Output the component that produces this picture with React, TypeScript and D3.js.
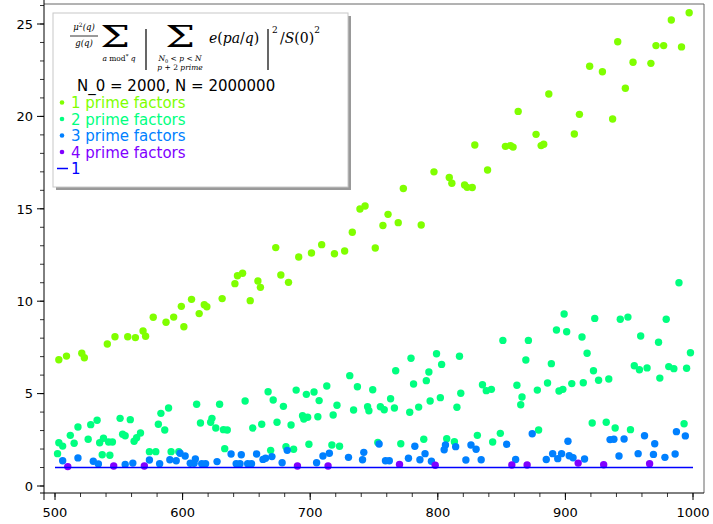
import React from 'react';
import * as d3 from 'd3';

// [q, value]
const onePrime: [number, number][] = [
  [503, 6.83], [509, 7.03], [521, 7.18], [523, 6.94], [541, 7.68], [547, 8.08], [557, 8.08], [563, 8.03], [569, 8.39], [571, 8.1],
  [577, 9.13], [587, 8.86], [593, 9.14], [599, 9.72], [601, 8.62], [607, 10.1], [613, 9.33], [617, 9.81], [619, 9.7], [631, 10.14],
  [641, 10.95], [643, 11.38], [647, 11.51], [653, 10.03], [659, 11.09], [661, 10.75], [673, 12.9], [677, 11.42], [683, 11.02], [691, 12.39],
  [701, 12.61], [709, 13.06], [719, 12.57], [727, 12.72], [733, 13.73], [739, 14.99], [743, 15.15], [751, 12.88], [757, 14.1], [761, 14.7],
  [769, 14.25], [773, 16.1], [787, 14.12], [797, 17.0], [809, 16.7], [811, 16.38], [821, 16.29], [823, 16.16], [827, 16.15], [829, 18.45],
  [839, 17.1], [853, 18.38], [857, 18.42], [859, 18.34], [863, 20.27], [877, 19.03], [881, 18.42], [883, 18.49], [887, 21.21], [907, 19.05],
  [911, 20.11], [919, 22.71], [929, 22.42], [937, 19.86], [941, 24.04], [947, 21.52], [953, 22.93], [967, 22.87], [971, 23.83], [977, 23.83],
  [983, 25.22], [991, 23.76], [997, 25.61],
];

const twoPrime: [number, number][] = [
  [502, 1.75], [503, 2.34], [506, 2.16], [512, 2.74], [515, 2.31], [518, 3.19], [526, 2.53], [528, 3.32], [533, 3.56], [535, 2.34],
  [538, 2.58], [537, 1.69], [543, 1.66], [542, 2.38], [545, 2.38], [551, 3.66], [553, 2.8], [555, 2.72], [559, 3.59], [562, 2.42],
  [564, 2.61], [567, 2.87], [574, 1.86], [579, 1.86], [583, 3.93], [589, 4.22], [581, 3.34], [586, 3.03], [591, 1.86], [597, 1.86],
  [611, 4.42], [614, 3.41], [622, 3.45], [623, 3.66], [626, 3.14], [629, 4.42], [632, 3.05], [635, 3.03], [633, 2.02], [649, 4.6],
  [655, 3.14], [662, 3.34],
  [667, 5.1], [671, 4.65], [679, 4.31], [674, 3.45], [685, 3.3], [689, 5.19], [697, 4.96], [703, 5.09], [707, 4.62], [713, 5.41],
  [694, 3.8], [695, 3.62], [698, 3.72], [706, 3.75], [718, 3.84], [721, 4.37], [731, 5.97], [737, 5.37], [734, 4.11], [745, 4.29],
  [746, 4.07], [749, 5.21], [755, 4.29], [758, 4.13], [763, 4.72], [766, 4.22], [767, 6.24], [779, 6.91], [781, 5.52], [778, 3.99],
  [785, 4.27], [791, 5.7], [793, 6.17], [794, 4.6], [799, 7.16], [803, 6.58], [802, 4.78], [815, 4.26], [817, 7.02], [818, 5.02],
  [835, 5.48], [838, 5.16],
  [669, 1.93], [681, 2.13], [687, 1.99], [699, 2.26], [717, 2.22], [723, 2.15], [753, 2.36], [771, 2.29], [789, 2.53], [807, 2.56],
  [813, 2.4], [831, 2.74],
  [899, 9.31], [923, 9.07], [943, 9.02], [949, 9.14], [979, 9.02], [893, 8.44], [901, 8.35], [851, 7.88], [871, 7.88], [913, 8.06],
  [959, 8.12], [973, 7.78], [869, 6.82], [917, 7.18], [889, 6.62], [998, 7.21], [842, 5.23], [862, 5.45], [866, 4.82], [865, 4.4],
  [878, 5.19], [886, 5.57], [895, 5.14], [898, 5.23], [905, 5.54], [914, 5.59], [922, 6.24], [926, 5.72], [934, 5.79], [954, 6.51],
  [958, 6.29], [964, 6.39], [974, 5.84], [981, 6.46], [985, 6.35], [995, 6.37], [843, 2.38], [849, 2.85], [879, 3.03], [921, 3.41],
  [932, 3.45], [939, 3.14], [951, 3.05], [993, 3.37], [989, 11.0],
];

const threePrime: [number, number][] = [
  [506, 1.37], [518, 1.52], [530, 1.34], [534, 1.19], [555, 1.17], [561, 1.24], [574, 1.41], [582, 1.21], [590, 1.42], [595, 1.37],
  [598, 1.77], [602, 1.62], [606, 1.23], [609, 1.23], [610, 1.46], [615, 1.21], [618, 1.21], [627, 1.32], [638, 1.73], [642, 1.21],
  [645, 1.21], [646, 1.69], [651, 1.21], [654, 1.21], [658, 1.73], [663, 1.44], [665, 1.5], [670, 1.59], [678, 1.26], [682, 1.93],
  [705, 1.26], [710, 1.62], [715, 1.77], [730, 1.55], [741, 1.42], [742, 1.82], [754, 2.27], [759, 1.37], [762, 1.37], [777, 1.5],
  [782, 2.15], [786, 1.42], [790, 1.75], [795, 1.34], [805, 1.96], [806, 2.22], [814, 2.13], [822, 1.41], [826, 2.22], [830, 1.99],
  [834, 1.42], [854, 2.26], [861, 1.43], [874, 2.83], [885, 1.43], [890, 1.75], [894, 1.48], [897, 1.75], [902, 2.42], [903, 1.64],
  [906, 1.53], [915, 1.46], [935, 2.51], [938, 2.53], [942, 1.62], [946, 2.54], [957, 1.75], [962, 2.72], [969, 1.71], [970, 2.29],
  [978, 1.55], [986, 1.73], [987, 2.94], [994, 2.71],
];

const fourPrime: [number, number][] = [
  [510, 1.05], [546, 1.08], [570, 1.08], [690, 1.08], [714, 1.08], [770, 1.17], [798, 1.12], [858, 1.14], [870, 1.14], [910, 1.24],
  [930, 1.15], [966, 1.21],
];

const constLine: [number, number][] = [[500, 1], [1000, 1]];

const seriesNames = ['1 prime factors', '2 prime factors', '3 prime factors', '4 prime factors'];
const seriesColors = ['#80ff00', '#00ff80', '#0080ff', '#8000ff'];
const xMajor = [500, 600, 700, 800, 900, 1000];
const yMajor = [0, 5, 10, 15, 20, 25];

const W = 713;
const H = 524;

const x = d3.scaleLinear().domain([500, 1000]).range([55, 693]);
const y = d3.scaleLinear().domain([0, 25]).range([486, 24]);

const left = 44, right = 704, top = 4, bottom = 493;
const sans = 'DejaVu Sans, sans-serif';
const serif = 'DejaVu Serif, serif';

const Legend: React.FC = () => {
  const lx = 53, ly = 13, lw = 295, lh = 174;
  const rows = [...seriesNames, '1'];
  return (
    <g>
      <rect x={lx + 3} y={ly + 3} width={lw} height={lh} fill="#999" />
      <rect x={lx} y={ly} width={lw} height={lh} fill="#fff" stroke="#c8c8c8" strokeWidth={1} />
      {/* formula */}
      <g fontFamily={serif} fill="#000">
        <text x={84} y={30} fontSize={8.5} textAnchor="middle" fontStyle="italic">
          μ<tspan fontSize={6} dy={-3} fontStyle="normal">2</tspan><tspan dy={3}>(q)</tspan>
        </text>
        <line x1={70} x2={98} y1={36} y2={36} stroke="#000" strokeWidth={0.8} />
        <text x={84} y={46} fontSize={8.5} textAnchor="middle" fontStyle="italic">g(q)</text>
        <text transform="translate(115,47) scale(1.45,1)" fontSize={29} textAnchor="middle">Σ</text>
        <text x={119} y={61} fontSize={7.5} textAnchor="middle">
          <tspan fontStyle="italic">a</tspan> mod<tspan fontSize={5.5} dy={-3}>*</tspan><tspan dy={3} fontStyle="italic"> q</tspan>
        </text>
        <line x1={146} x2={146} y1={29} y2={70} stroke="#000" strokeWidth={1.2} />
        <text transform="translate(180,47) scale(1.45,1)" fontSize={29} textAnchor="middle">Σ</text>
        <text x={180} y={61} fontSize={7.5} textAnchor="middle" fontStyle="italic">
          N<tspan fontSize={5} dy={1.5} fontStyle="normal">0</tspan><tspan dy={-1.5} fontStyle="normal"> &lt; </tspan>p<tspan fontStyle="normal"> &lt; </tspan>N
        </text>
        <text x={180} y={70} fontSize={7.5} textAnchor="middle" fontStyle="italic">
          p<tspan fontStyle="normal"> + 2 </tspan>prime
        </text>
        <text x={209} y={43} fontSize={14} fontStyle="italic">
          e<tspan fontStyle="normal">(</tspan>pa<tspan fontStyle="normal">/</tspan>q<tspan fontStyle="normal">)</tspan>
        </text>
        <line x1={268} x2={268} y1={29} y2={70} stroke="#000" strokeWidth={1.2} />
        <text x={272} y={33} fontSize={9}>2</text>
        <text x={280} y={43} fontSize={14}>
          /<tspan fontStyle="italic">S</tspan>(0)<tspan fontSize={9} dy={-10}>2</tspan>
        </text>
      </g>
      <text x={77} y={90.5} fontSize={15} fontFamily={sans} fill="#000">N_0 = 2000, N = 2000000</text>
      {rows.map((name, i) => {
        const cy = 102.5 + i * 16.5;
        const color = i < 4 ? seriesColors[i] : '#0000ff';
        return (
          <g key={name}>
            {i < 4 ? (
              <circle cx={62} cy={cy} r={2.3} fill={color} />
            ) : (
              <line x1={57} x2={68} y1={cy} y2={cy} stroke={color} strokeWidth={1.5} />
            )}
            <text x={71} y={cy + 5.5} fontSize={15} fontFamily={sans} fill={color}>{name}</text>
          </g>
        );
      })}
    </g>
  );
};

const App: React.FC = () => {
  const series = [onePrime, twoPrime, threePrime, fourPrime];
  const xMinor = d3.range(500, 1001, 20);
  const yMinor = d3.range(0, 27, 1);
  const line = d3.line<[number, number]>().x(d => x(d[0])).y(d => y(d[1]));

  return (
    <svg width={W} height={H} style={{ position: 'fixed', left: 0, top: 0, background: '#fff' }}>
      <rect width={W} height={H} fill="#fff" />
      {/* frame */}
      <line x1={left} x2={right} y1={top} y2={top} stroke="#666" strokeWidth={1} />
      <line x1={right} x2={right} y1={top} y2={bottom} stroke="#666" strokeWidth={1} />

      {/* points */}
      {series.map((pts, si) => (
        <g key={si} fill={seriesColors[si]}>
          {pts.map((d, i) => (
            <circle key={i} cx={x(d[0])} cy={y(d[1])} r={3.7} />
          ))}
        </g>
      ))}
      <path d={line(constLine) ?? ''} stroke="#0000ff" strokeWidth={1.3} fill="none" />

      {/* axes */}
      <line x1={left} x2={left} y1={0} y2={500} stroke="#000" strokeWidth={1} />
      <line x1={40} x2={right} y1={bottom} y2={bottom} stroke="#000" strokeWidth={1} />
      {xMinor.map(v => (
        <line key={'xm' + v} x1={x(v)} x2={x(v)} y1={bottom} y2={bottom + 4} stroke="#000" strokeWidth={0.8} />
      ))}
      {xMajor.map(v => (
        <g key={'x' + v}>
          <line x1={x(v)} x2={x(v)} y1={bottom} y2={bottom + 7} stroke="#000" strokeWidth={1} />
          <text x={x(v)} y={517} fontSize={13} fontFamily={sans} textAnchor="middle" fill="#000">{v}</text>
        </g>
      ))}
      {yMinor.map(v => (
        <line key={'ym' + v} x1={left - 4} x2={left} y1={y(v)} y2={y(v)} stroke="#000" strokeWidth={0.8} />
      ))}
      {yMajor.map(v => (
        <g key={'y' + v}>
          <line x1={left - 7} x2={left} y1={y(v)} y2={y(v)} stroke="#000" strokeWidth={1} />
          <text x={33} y={y(v) + 4.7} fontSize={13} fontFamily={sans} textAnchor="end" fill="#000">{v}</text>
        </g>
      ))}

      <Legend />
    </svg>
  );
};

export default App;
